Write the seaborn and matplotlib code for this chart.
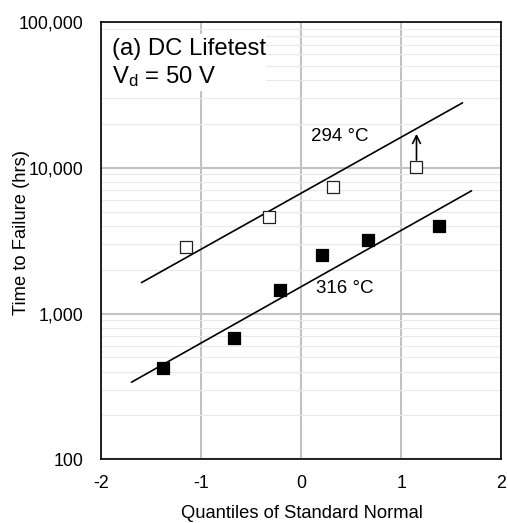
import numpy as np
import pandas as pd
import matplotlib
matplotlib.use("Agg")
import matplotlib.pyplot as plt
import matplotlib.ticker as mticker
from matplotlib.patches import Rectangle
import seaborn as sns

# ============= DATA =============
# 294 C lifetest (open squares), quantiles vs hours
q_294 = [-1.15, -0.32, 0.32, 1.15]
t_294 = [2880, 4600, 7400, 10050]
# 316 C lifetest (filled squares)
q_316 = [-1.38, -0.67, -0.21, 0.21, 0.67, 1.38]
t_316 = [420, 680, 1445, 2540, 3190, 4000]

# fitted lines (end points)
fit_q_294 = [-1.60, 1.61]
fit_t_294 = [1630, 27900]
fit_q_316 = [-1.70, 1.70]
fit_t_316 = [338, 6950]

# arrow above the censored 294 C point
arrow_q = 1.15
arrow_t = [11300, 17100]

x_ticks = [-2, -1, 0, 1, 2]
y_ticks = [100, 1000, 10000, 100000]

# ============= STYLE =============
sns.set_theme(style="white")
plt.rcParams['font.family'] = ['Liberation Sans', 'DejaVu Sans']
plt.rcParams['mathtext.fontset'] = 'custom'
plt.rcParams['mathtext.rm'] = 'Liberation Sans'
plt.rcParams['mathtext.it'] = 'Liberation Sans:italic'
plt.rcParams['axes.unicode_minus'] = False
plt.rcParams['text.color'] = 'black'
plt.rcParams['axes.labelcolor'] = 'black'
plt.rcParams['xtick.color'] = 'black'
plt.rcParams['ytick.color'] = 'black'

fig = plt.figure(figsize=(5.08, 5.23), dpi=100)
ax = fig.add_axes([0.1998, 0.1218, 0.7874, 0.8361])

df294 = pd.DataFrame({'q': q_294, 't': t_294})
df316 = pd.DataFrame({'q': q_316, 't': t_316})

sns.lineplot(x=fit_q_294, y=fit_t_294, ax=ax, color='black', lw=1.2, zorder=3)
sns.lineplot(x=fit_q_316, y=fit_t_316, ax=ax, color='black', lw=1.2, zorder=3)

sns.scatterplot(data=df294, x='q', y='t', ax=ax, marker='s', s=72,
                facecolor='white', edgecolor='#222222', linewidth=0.9, zorder=4)
sns.scatterplot(data=df316, x='q', y='t', ax=ax, marker='s', s=72,
                color='black', edgecolor='black', linewidth=0.9, zorder=4)

ax.annotate('', xy=(arrow_q, arrow_t[1]), xytext=(arrow_q, arrow_t[0]),
            arrowprops=dict(arrowstyle='->', color='black', lw=1.2,
                            mutation_scale=14, shrinkA=0, shrinkB=0), zorder=4)

ax.set_yscale('log')
ax.set_xlim(-2, 2)
ax.set_ylim(100, 100000)
ax.set_xticks(x_ticks)
ax.set_xticklabels([str(v) for v in x_ticks])
ax.set_yticks(y_ticks)
ax.yaxis.set_major_formatter(mticker.FuncFormatter(lambda v, p: f"{v:,.0f}"))
ax.yaxis.set_minor_locator(mticker.LogLocator(base=10, subs=np.arange(2, 10)))
ax.yaxis.set_minor_formatter(mticker.NullFormatter())

# grid
ax.set_axisbelow(True)
ax.grid(which='major', axis='both', color='#c2c2c2', lw=1.5)
ax.grid(which='minor', axis='y', color='#e9e9e9', lw=0.8)

ax.tick_params(axis='x', which='both', length=0, pad=11, labelsize=12.8, labelcolor='black')
ax.tick_params(axis='y', which='major', direction='in', length=5, width=1.2,
               color='#a0a0a0', pad=13, labelsize=12.8, labelcolor='black')
ax.tick_params(axis='y', which='minor', length=0)

for s in ax.spines.values():
    s.set_color('black')
    s.set_linewidth(1.2)

ax.set_xlabel('Quantiles of Standard Normal', fontsize=13.2, color='black')
ax.set_ylabel('Time to Failure (hrs)', fontsize=13.2, color='black')
ax.xaxis.set_label_coords(0.5, -0.1045)
ax.yaxis.set_label_coords(-0.179, 0.5186)

# white text box behind the panel label
ax.add_patch(Rectangle((0.002, 0.842), 0.41, 0.1306, transform=ax.transAxes,
                       facecolor='white', edgecolor='none', zorder=2))
ax.text(0.026, 0.9246, '(a) DC Lifetest', transform=ax.transAxes,
        fontsize=17.2, va='baseline', ha='left', color='black', zorder=5)
ax.text(0.026, 0.861, r'V$_\mathrm{d}$ = 50 V', transform=ax.transAxes,
        fontsize=17.2, va='baseline', ha='left', color='black', zorder=5)

ax.text(0.38, 16480, '294 °C', fontsize=13.5, ha='center', va='center', color='black', zorder=5)
ax.text(0.43, 1475, '316 °C', fontsize=13.5, ha='center', va='center', color='black', zorder=5)

if ax.get_legend() is not None:
    ax.get_legend().remove()

fig.savefig('out.png', dpi=100)
